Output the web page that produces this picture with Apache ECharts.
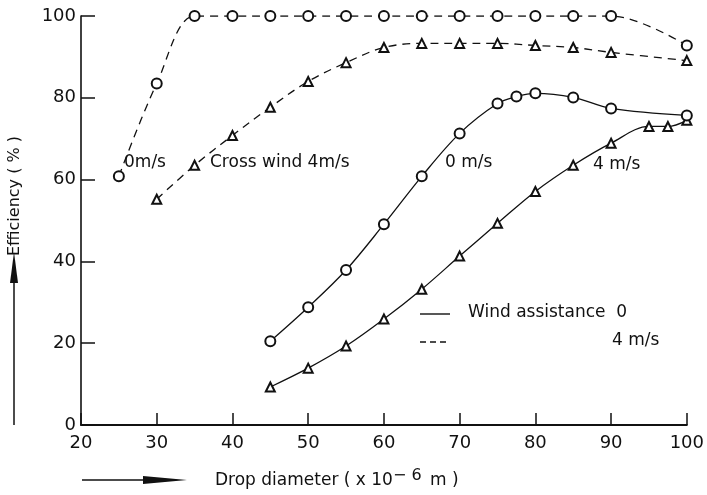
<!DOCTYPE html>
<html>
<head>
<meta charset="utf-8">
<script src="https://cdn.jsdelivr.net/npm/echarts@6/dist/echarts.min.js"></script>
<style>
  html, body { margin: 0; padding: 0; background: #fff; }
  #main { width: 707px; height: 495px; }
</style>
</head>
<body>
<div id="main"></div>
<script>
// drop diameter (x 10^-6 m) and efficiency (%)
var calmCircleX = [45, 50, 55, 60, 65, 70, 75, 77.5, 80, 85, 90, 100];
var calmCircleY = [20.5, 28.8, 37.9, 49.1, 60.8, 71.3, 78.6, 80.3, 81.1, 80.1, 77.4, 75.7];

var calmTriX = [45, 50, 55, 60, 65, 70, 75, 80, 85, 90, 95, 97.5, 100];
var calmTriY = [9.3, 13.9, 19.3, 25.9, 33.2, 41.3, 49.3, 57.1, 63.5, 68.9, 73.0, 73.0, 74.5];

var windCircleX = [25, 30, 35, 40, 45, 50, 55, 60, 65, 70, 75, 80, 85, 90, 100];
var windCircleY = [60.8, 83.5, 100, 100, 100, 100, 100, 100, 100, 100, 100, 100, 100, 100, 92.8];

var windTriX = [30, 35, 40, 45, 50, 55, 60, 65, 70, 75, 80, 85, 90, 100];
var windTriY = [55.2, 63.5, 70.8, 77.7, 84.0, 88.6, 92.3, 93.3, 93.3, 93.3, 92.8, 92.3, 91.1, 89.1];

var xTicks = [20, 30, 40, 50, 60, 70, 80, 90, 100];
var yTicks = [0, 20, 40, 60, 80, 100];

function pairs(xs, ys) {
	return xs.map(function(x, i) { return [x, ys[i]]; });
}

var font = 'DejaVu Sans';
var ink = '#111';
var txt = '17px "DejaVu Sans"';

function curve(name, xs, ys, symbol, dashed) {
	return {
		name : name,
		type : 'line',
		data : pairs(xs, ys),
		smooth : 0.35,
		symbol : symbol,
		symbolSize : symbol === 'emptyTriangle' ? 9 : 10,
		itemStyle : { color : ink, borderColor : ink, borderWidth : 1.4 },
		lineStyle : { color : ink, width : 1.3, type : dashed ? [8, 6] : 'solid' },
		z : symbol === 'emptyCircle' ? 3 : 2
	};
}

var myChart = echarts.init(document.getElementById('main'));

var option = {
	animation : false,
	backgroundColor : '#fff',
	textStyle : { fontFamily : font, color : ink },
	grid : { left : 81, right : 17, top : 16, bottom : 70 },
	xAxis : {
		type : 'value',
		min : xTicks[0],
		max : xTicks[xTicks.length - 1],
		interval : 10,
		axisLine : { lineStyle : { color : ink, width : 2 } },
		axisTick : { inside : true, length : 12, lineStyle : { color : ink, width : 1.5 } },
		axisLabel : { color : ink, fontSize : 18, margin : 9, fontFamily : font },
		splitLine : { show : false }
	},
	yAxis : {
		type : 'value',
		min : yTicks[0],
		max : yTicks[yTicks.length - 1],
		interval : 20,
		axisLine : { show : true, lineStyle : { color : ink, width : 1.6 } },
		axisTick : { show : true, inside : true, length : 14, lineStyle : { color : ink, width : 1.5 } },
		axisLabel : { color : ink, fontSize : 18, margin : 5, fontFamily : font },
		splitLine : { show : false }
	},
	series : [
		curve('Wind assistance 0 (circles)', calmCircleX, calmCircleY, 'emptyCircle', false),
		curve('Wind assistance 0 (triangles)', calmTriX, calmTriY, 'emptyTriangle', false),
		curve('4 m/s (circles)', windCircleX, windCircleY, 'emptyCircle', true),
		curve('4 m/s (triangles)', windTriX, windTriY, 'emptyTriangle', true)
	],
	graphic : [
		// y axis title with arrow
		{
			type : 'text', x : 15, y : 196, rotation : Math.PI / 2,
			style : { text : 'Efficiency ( % )', font : '16px "DejaVu Sans"', fill : ink, align : 'center', verticalAlign : 'middle' }
		},
		{ type : 'line', shape : { x1 : 14, y1 : 425, x2 : 14, y2 : 270 }, style : { stroke : ink, lineWidth : 1.5 } },
		{ type : 'polygon', shape : { points : [ [14, 252], [10, 283], [18, 283] ] }, style : { fill : ink } },
		// x axis title with arrow
		{ type : 'line', shape : { x1 : 82, y1 : 480, x2 : 170, y2 : 480 }, style : { stroke : ink, lineWidth : 1.5 } },
		{ type : 'polygon', shape : { points : [ [187, 480], [143, 476], [143, 484] ] }, style : { fill : ink } },
		{
			type : 'text', x : 215, y : 481,
			style : {
				text : 'Drop diameter ( x 10{sup|− 6} m )',
				font : txt, fill : ink, verticalAlign : 'middle',
				rich : { sup : { fontSize : 16, fontFamily : font, fill : ink, verticalAlign : 'bottom', padding : [0, 3, 10, 0] } }
			}
		},
		// curve labels
		{ type : 'text', x : 124, y : 163, style : { text : '0m/s', font : txt, fill : ink, verticalAlign : 'middle' } },
		{ type : 'text', x : 210, y : 163, style : { text : 'Cross wind 4m/s', font : txt, fill : ink, verticalAlign : 'middle' } },
		{ type : 'text', x : 445, y : 163, style : { text : '0 m/s', font : txt, fill : ink, verticalAlign : 'middle' } },
		{ type : 'text', x : 593, y : 165, style : { text : '4 m/s', font : txt, fill : ink, verticalAlign : 'middle' } },
		// legend
		{ type : 'line', shape : { x1 : 420, y1 : 314, x2 : 450, y2 : 314 }, style : { stroke : ink, lineWidth : 1.4 } },
		{ type : 'line', shape : { x1 : 420, y1 : 342, x2 : 450, y2 : 342 }, style : { stroke : ink, lineWidth : 1.4, lineDash : [6, 4] } },
		{ type : 'text', x : 468, y : 313, style : { text : 'Wind assistance  0', font : txt, fill : ink, verticalAlign : 'middle' } },
		{ type : 'text', x : 612, y : 341, style : { text : '4 m/s', font : txt, fill : ink, verticalAlign : 'middle' } }
	]
};

myChart.setOption(option);
</script>
</body>
</html>
